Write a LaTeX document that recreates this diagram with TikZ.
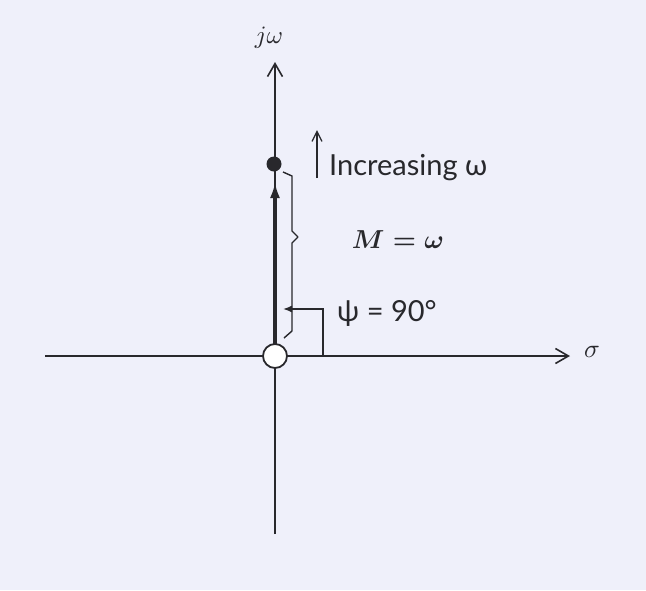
\documentclass[tikz,border=0pt]{standalone}
\usepackage{fontspec}
\newfontfamily\lab{Lato}
\usetikzlibrary{arrows.meta}
\definecolor{bg}{RGB}{239,240,250}
\definecolor{ink}{RGB}{40,40,44}
\tikzset{
  axis/.style={draw=ink, line width=1.8pt},
  barb/.style={-{Straight Barb[length=13pt,width=15pt,line width=1.6pt]}},
  thin/.style={draw=ink, line width=1.4pt},
  sans/.style={text=ink, font=\lab\fontsize{29}{32}\selectfont, inner sep=0pt},
  mathlab/.style={text=ink, inner sep=0pt},
}
\begin{document}
\begin{tikzpicture}[x=1pt,y=-1pt]
\fill[bg] (0,0) rectangle (646,590);
\useasboundingbox (0,0) rectangle (646,590);
% axis end points
\coordinate (xl) at (45,356);
\coordinate (xr) at (570,356);
\coordinate (yb) at (275,534);
\coordinate (yt) at (275,62);
\coordinate (tipA) at (275,182);
\coordinate (corner) at (323,309);
\coordinate (cbase) at (323,356);
\coordinate (ctip) at (283,309);
\coordinate (incB) at (317,178);
\coordinate (incT) at (317,130);
% axes
\draw[axis] (xl) -- (cbase);
\draw[axis,barb] (cbase) -- (xr);
\draw[axis] (yb) -- (275,356);
\draw[axis,barb] (275,356) -- (yt);
% thick segment with arrow
\draw[draw=ink, line width=4.5pt, -{Latex[length=16pt,width=10pt]}] (275,356) -- (tipA);
% point and origin
\node[circle, fill=ink, minimum size=15pt, inner sep=0pt] (p) at (274,164) {};
\node[circle, draw=ink, fill=white, line width=1.8pt, minimum size=24pt, inner sep=0pt] (o) at (275,356) {};
% brace
\draw[thin, line join=round] (283,172) -- (292,176) -- (292,231) -- (298,237) -- (292,243) -- (292,331) -- (284,338);
% right angle marker
\draw[thin, -{Latex[length=9pt,width=7pt]}] (cbase) -- (corner) -- (ctip);
% increasing arrow
\draw[thin, -{Straight Barb[length=10pt,width=10pt,line width=1.3pt]}] (incB) -- (incT);
% labels
\node[mathlab] (jw) at (269,38) {\scalebox{2.5}{$j\omega$}};
\node[mathlab] (sig) at (592,352) {\scalebox{2.6}{$\sigma$}};
\node[sans, anchor=west] (inc) at (329,168) {Increasing ω};
\node[mathlab] (M) at (398,240) {\scalebox{2.6}{\boldmath$M = \omega$}};
\node[sans, anchor=west] (psi) at (337,313) {ψ = 90°};
\end{tikzpicture}
\end{document}
